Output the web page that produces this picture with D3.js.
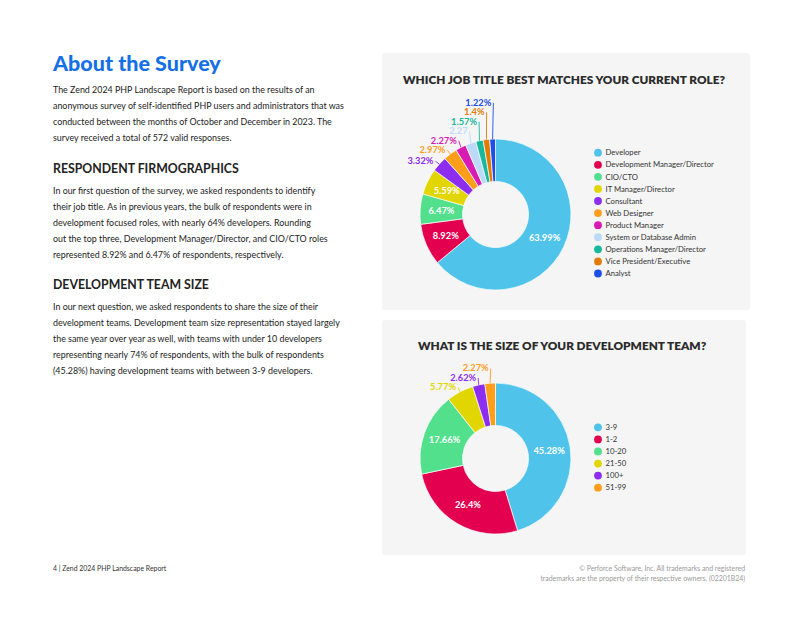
<!DOCTYPE html>
<html><head><meta charset="utf-8">
<script src="https://cdn.jsdelivr.net/npm/d3@7"></script>
<style>body{margin:0;background:#fff} svg{display:block}</style>
</head><body>
<script>
// ---------- data ----------
const jobTitles = ["Developer","Development Manager/Director","CIO/CTO","IT Manager/Director","Consultant","Web Designer","Product Manager","System or Database Admin","Operations Manager/Director","Vice President/Executive","Analyst"];
const jobValues = [63.99, 8.92, 6.47, 5.59, 3.32, 2.97, 2.27, 2.27, 1.57, 1.4, 1.22];
const jobLabels = ["63.99%","8.92%","6.47%","5.59%","3.32%","2.97%","2.27%","2.27","1.57%","1.4%","1.22%"];
const jobColors = ["#4fc3ea","#e2004f","#52e08c","#e2d600","#8d2df0","#ff9e1b","#d81bb3","#bcdaf7","#17b89b","#e27c07","#1c4fe6"];

const teamSizes = ["3-9","1-2","10-20","21-50","100+","51-99"];
const teamValues = [45.28, 26.4, 17.66, 5.77, 2.62, 2.27];
const teamLabels = ["45.28%","26.4%","17.66%","5.77%","2.62%","2.27%"];
const teamColors = ["#4fc3ea","#e2004f","#52e08c","#e2d600","#8d2df0","#ff9e1b"];

const introLines = ["The Zend 2024 PHP Landscape Report is based on the results of an",
 "anonymous survey of self-identified PHP users and administrators that was",
 "conducted between the months of October and December in 2023. The",
 "survey received a total of 572 valid responses."];
const firmoLines = ["In our first question of the survey, we asked respondents to identify",
 "their job title. As in previous years, the bulk of respondents were in",
 "development focused roles, with nearly 64% developers. Rounding",
 "out the top three, Development Manager/Director, and CIO/CTO roles",
 "represented 8.92% and 6.47% of respondents, respectively."];
const teamLines = ["In our next question, we asked respondents to share the size of their",
 "development teams. Development team size representation stayed largely",
 "the same year over year as well, with teams with under 10 developers",
 "representing nearly 74% of respondents, with the bulk of respondents",
 "(45.28%) having development teams with between 3-9 developers."];

// ---------- page ----------
const W = 800, H = 618;
const FONT = "Lato, 'Open Sans', sans-serif";
const svg = d3.select("body").append("svg").attr("width", W).attr("height", H)
  .style("font-family", FONT);
svg.append("rect").attr("width", W).attr("height", H).attr("fill", "#fff");

// left column text
svg.append("text").attr("x", 53).attr("y", 71).text("About the Survey")
  .attr("font-size", 21.5).attr("font-weight", 900).attr("fill", "#1570e6");

function para(lines, y0, step) {
  svg.append("g").selectAll("text").data(lines).join("text")
    .attr("x", 53).attr("y", (d, i) => y0 + i * step).attr("dy", "0.35em")
    .attr("font-size", 8.9).attr("fill", "#222").text(d => d);
}
function heading(t, y) {
  svg.append("text").attr("x", 53).attr("y", y).attr("dy", "0.35em").text(t)
    .attr("font-size", 12.3).attr("font-weight", 700).attr("fill", "#222");
}
para(introLines, 89.5, 16.2);
heading("RESPONDENT FIRMOGRAPHICS", 168.5);
para(firmoLines, 190.7, 16);
heading("DEVELOPMENT TEAM SIZE", 285);
para(teamLines, 307.3, 16);

// footer
svg.append("text").attr("x", 53).attr("y", 569).attr("dy", "0.35em")
  .attr("font-size", 6.9).attr("fill", "#333").text("4 | Zend 2024 PHP Landscape Report");
svg.append("g").selectAll("text")
  .data(["© Perforce Software, Inc. All trademarks and registered","trademarks are the property of their respective owners. (02201B24)"])
  .join("text").attr("x", 745).attr("y", (d, i) => 569 + i * 9.5).attr("dy", "0.35em")
  .attr("text-anchor", "end").attr("font-size", 6.9).attr("fill", "#9a9a9a").text(d => d);

// ---------- donut ----------
function donut(opt) {
  const g = svg.append("g");
  g.append("rect").attr("x", opt.px).attr("y", opt.py).attr("width", opt.pw).attr("height", opt.ph)
    .attr("rx", 3).attr("fill", "#f5f5f5");
  g.append("text").attr("x", opt.titleX).attr("y", opt.titleY).attr("dy", "0.35em")
    .attr("font-size", 11.8).attr("font-weight", 800).attr("fill", "#2b2b2b").text(opt.title);

  const inner = 33, outer = 75.5;
  const pie = d3.pie().sort(null).value(d => d)(opt.values);
  const arc = d3.arc().innerRadius(inner).outerRadius(outer);
  const cg = g.append("g").attr("transform", `translate(${opt.cx},${opt.cy})`);
  cg.selectAll("path").data(pie).join("path").attr("d", arc)
    .attr("fill", (d, i) => opt.colors[i]).attr("stroke", "#fff").attr("stroke-width", 0.7);

  // labels: inside if the label fits in the slice, otherwise outside with leader line
  const outside = [];
  pie.forEach((d, i) => {
    const t = cg.append("text").attr("font-size", 9.3).attr("font-weight", 700)
      .attr("dy", "0.35em").text(opt.labels[i]);
    const w = t.node().getComputedTextLength() + 2, h = 7;
    const [x, y] = arc.centroid(d);
    const pts = [[x - w / 2, y], [x + w / 2, y], [x, y - h / 2], [x, y + h / 2]];
    const fits = pts.every(([px, py]) => {
      const r = Math.hypot(px, py);
      let a = Math.atan2(px, -py); if (a < 0) a += 2 * Math.PI;
      return r >= inner && r <= outer && a >= d.startAngle && a <= d.endAngle;
    });
    if (fits) {
      t.attr("x", x).attr("y", y).attr("text-anchor", "middle").attr("fill", "#fff");
    } else {
      const mid = (d.startAngle + d.endAngle) / 2;
      outside.push({t, i, mid});
    }
  });
  // stack outside labels (left side, going upward as angle grows)
  outside.sort((a, b) => a.mid - b.mid);
  let prevY = Infinity;
  const step = 9.5, rl = outer + 6.5;
  outside.forEach(o => {
    const ax = Math.sin(o.mid) * rl;
    let ay = -Math.cos(o.mid) * rl;
    ay = Math.min(ay, prevY - step);
    prevY = ay;
    const ex = Math.sin(o.mid) * outer, ey = -Math.cos(o.mid) * outer;
    cg.append("line").attr("x1", ax + 1).attr("y1", ay + 1.5).attr("x2", ex).attr("y2", ey)
      .attr("stroke", opt.colors[o.i]).attr("stroke-width", 0.9);
    o.t.attr("x", ax - 1).attr("y", ay + 1).attr("text-anchor", "end").attr("fill", opt.colors[o.i]);
  });

  // legend
  const lg = g.append("g").selectAll("g").data(opt.names).join("g")
    .attr("transform", (d, i) => `translate(${opt.legX},${opt.legY + i * 12.08})`);
  lg.append("circle").attr("r", 3.9).attr("fill", (d, i) => opt.colors[i]);
  lg.append("text").attr("x", 7.5).attr("dy", "0.35em").attr("font-size", 7.7)
    .attr("fill", "#333").text(d => d);
}

donut({px: 382, py: 53, pw: 368, ph: 257, title: "WHICH JOB TITLE BEST MATCHES YOUR CURRENT ROLE?",
  titleX: 403, titleY: 80, cx: 495.5, cy: 214.5, names: jobTitles, values: jobValues,
  labels: jobLabels, colors: jobColors, legX: 598, legY: 152.7});
donut({px: 382, py: 320, pw: 364, ph: 235, title: "WHAT IS THE SIZE OF YOUR DEVELOPMENT TEAM?",
  titleX: 418, titleY: 346, cx: 495.5, cy: 458.5, names: teamSizes, values: teamValues,
  labels: teamLabels, colors: teamColors, legX: 598, legY: 427.3});
</script>
</body></html>
